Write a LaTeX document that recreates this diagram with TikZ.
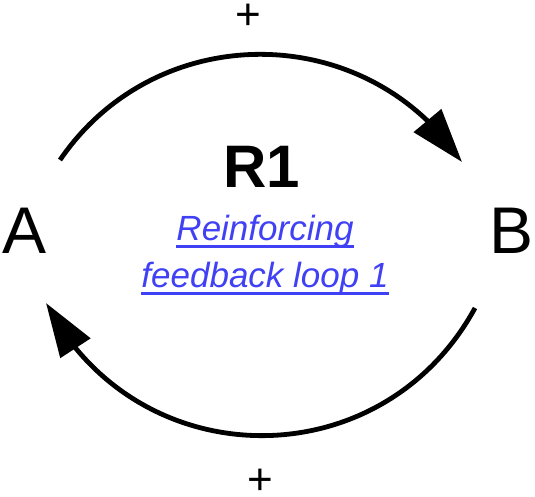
\documentclass[tikz,border=0pt]{standalone}
\usepackage{fontspec}
\setmainfont{Liberation Sans}
\usetikzlibrary{arrows.meta,bending}
\definecolor{linkblue}{RGB}{64,64,245}
\newcommand\linkul[1]{\setbox0\hbox{#1}\rlap{\rule[-7.5pt]{\wd0}{2.2pt}}\box0}

\begin{document}
\begin{tikzpicture}[x=1pt,y=1pt,
    loop/.style={line width=4.8pt,-{Triangle[length=54pt,width=35pt,flex]}},
    var/.style={font=\fontsize{66}{66}\selectfont,anchor=base},
    sign/.style={font=\fontsize{44}{44}\selectfont,inner sep=0pt},
    link/.style={text=linkblue,font=\fontsize{35}{35}\selectfont\itshape,anchor=base}]
  \useasboundingbox (0,0) rectangle (535,496);
  % variables and loop name
  \node[var] (A) at (25,243) {A};
  \node[var] (B) at (512,243) {B};
  \node[font=\fontsize{60}{60}\selectfont\bfseries,anchor=base] (R1) at (262,308) {R1};
  \node[link] (l1) at (265,256) {\linkul{Reinforcing}};
  \node[link] (l2) at (265,209) {\linkul{feedback loop 1}};
  % polarities
  \node[sign] (p1) at (248,479) {+};
  \node[sign] (p2) at (260,14) {+};
  % arc ends
  \coordinate (a1) at (60,336);
  \coordinate (b1) at (462,334);
  \coordinate (b2) at (475,188);
  \coordinate (a2) at (46,193);
  \draw[loop] (a1) to[bend left=56,looseness=1.09] (b1);
  \draw[loop] (b2) to[bend left=62,looseness=1.17] (a2);
\end{tikzpicture}
\end{document}
